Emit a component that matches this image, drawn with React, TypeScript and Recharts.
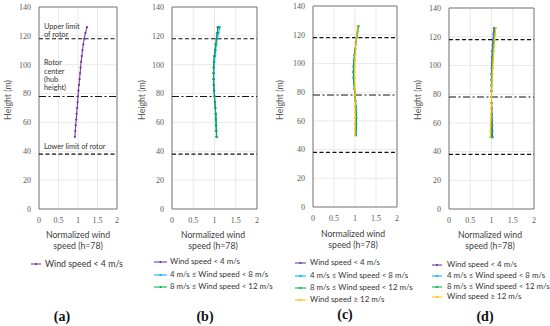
import React from "react";
import {
  ScatterChart,
  Scatter,
  XAxis,
  YAxis,
  CartesianGrid,
  ReferenceLine,
  ReferenceArea,
} from "recharts";

// measurement heights (m)
const heights = [50, 54, 58, 62, 66, 70, 74, 78, 82, 86, 90, 94, 98, 102, 106, 110, 114, 118, 122, 126];

// normalized wind speed (h=78) per panel and class
const aPurple = [0.92, 0.93, 0.94, 0.955, 0.965, 0.978, 0.99, 1.0, 1.012, 1.025, 1.04, 1.053, 1.066, 1.08, 1.097, 1.115, 1.135, 1.16, 1.19, 1.23];

const bPurple = [1.05, 1.045, 1.04, 1.035, 1.03, 1.02, 1.01, 1.0, 0.99, 0.983, 0.978, 0.977, 0.98, 0.988, 0.998, 1.012, 1.028, 1.048, 1.065, 1.075];
const bCyan = [1.045, 1.04, 1.035, 1.03, 1.025, 1.018, 1.008, 1.0, 0.993, 0.987, 0.984, 0.985, 0.99, 1.0, 1.013, 1.028, 1.045, 1.068, 1.095, 1.125];
const bGreen = [1.05, 1.045, 1.04, 1.035, 1.03, 1.02, 1.01, 1.0, 0.99, 0.982, 0.977, 0.975, 0.978, 0.985, 0.995, 1.01, 1.025, 1.045, 1.065, 1.09];

const cPurple = [1.015, 1.02, 1.022, 1.024, 1.02, 1.015, 1.008, 1.0, 0.99, 0.98, 0.973, 0.97, 0.973, 0.98, 0.992, 1.005, 1.02, 1.037, 1.055, 1.07];
const cCyan = [1.025, 1.03, 1.033, 1.035, 1.03, 1.022, 1.012, 1.0, 0.985, 0.972, 0.962, 0.958, 0.962, 0.972, 0.985, 1.0, 1.02, 1.04, 1.06, 1.085];
const cGreen = [1.02, 1.025, 1.028, 1.03, 1.026, 1.02, 1.01, 1.0, 0.988, 0.977, 0.968, 0.965, 0.968, 0.977, 0.99, 1.005, 1.022, 1.04, 1.058, 1.08];
const cYellow = [1.0, 1.0, 1.003, 1.005, 1.005, 1.004, 1.002, 1.0, 0.997, 0.994, 0.992, 0.991, 0.993, 0.997, 1.004, 1.012, 1.022, 1.035, 1.048, 1.06];

const dPurple = [1.025, 1.022, 1.02, 1.016, 1.012, 1.008, 1.004, 1.0, 0.998, 0.997, 0.997, 0.998, 1.0, 1.004, 1.01, 1.016, 1.024, 1.034, 1.045, 1.058];
const dCyan = [1.01, 1.008, 1.006, 1.005, 1.004, 1.002, 1.001, 1.0, 1.0, 1.001, 1.003, 1.006, 1.01, 1.016, 1.022, 1.03, 1.04, 1.05, 1.062, 1.075];
const dGreen = [1.0, 1.0, 1.0, 1.0, 1.0, 1.0, 1.0, 1.0, 1.002, 1.005, 1.009, 1.014, 1.02, 1.027, 1.035, 1.044, 1.054, 1.065, 1.077, 1.09];
const dYellow = [0.97, 0.975, 0.98, 0.985, 0.99, 0.994, 0.997, 1.0, 1.004, 1.009, 1.015, 1.021, 1.028, 1.036, 1.044, 1.053, 1.063, 1.074, 1.086, 1.1];

const xTicks = [0, 0.5, 1, 1.5, 2];
const yTicks = [0, 20, 40, 60, 80, 100, 120, 140];
const upperLimit = 118;
const hubHeight = 78;
const lowerLimit = 38;

const classNames = [
  "Wind speed < 4 m/s",
  "4 m/s \u2264 Wind speed < 8 m/s",
  "8 m/s \u2264 Wind speed < 12 m/s",
  "Wind speed \u2265 12 m/s",
];
const classColors = ["#7030A0", "#00B0F0", "#00B050", "#FFC000"];

const toPoints = (vals: number[]) => heights.map((h, i) => ({ h, v: vals[i] }));

const SANS = "Lato, 'Open Sans', sans-serif";
const SERIF = "'Liberation Serif', 'DejaVu Serif', serif";
const AXIS_GREY = "#595959";

type Series = { name: string; color: string; values: number[] };

type PanelCfg = {
  left: number;
  right: number;
  top: number;
  bottom: number;
  series: Series[];
  notes?: boolean;
};

const dot = (color: string) => (props: any) =>
  <circle cx={props.cx} cy={props.cy} r={1.1} fill={color} />;

const noteStyle = { fontFamily: SANS, fontSize: 7.3, fill: "#333" };

const noteLabel = (lines: string[], dy: number) => (props: any) => {
  const vb = props.viewBox || {};
  return (
    <text x={(vb.x ?? 0) + 5} y={(vb.y ?? 0) + dy} style={noteStyle}>
      {lines.map((l, i) => (
        <tspan key={i} x={(vb.x ?? 0) + 5} dy={i === 0 ? 0 : 8.2}>
          {l}
        </tspan>
      ))}
    </text>
  );
};

function Panel({ cfg }: { cfg: PanelCfg }) {
  const yw = 40;
  const w = cfg.right - cfg.left + yw + 5;
  const h = cfg.bottom + 20;
  return (
    <div style={{ position: "absolute", left: cfg.left - yw, top: 0 }}>
      <ScatterChart width={w} height={h} margin={{ top: cfg.top, right: 5, left: 0, bottom: 0 }}>
        <CartesianGrid stroke="#e3e3e3" strokeWidth={0.8} />
        <XAxis
          type="number"
          dataKey="v"
          domain={[0, 2]}
          ticks={xTicks}
          height={20}
          axisLine={false}
          tickLine={false}
          tick={{ fill: AXIS_GREY, fontFamily: SERIF, fontSize: 8 }}
          interval={0}
        />
        <YAxis
          type="number"
          dataKey="h"
          domain={[0, 140]}
          ticks={yTicks}
          width={yw}
          axisLine={false}
          tickLine={false}
          tick={{ fill: AXIS_GREY, fontFamily: SERIF, fontSize: 8 }}
          interval={0}
        />
        <ReferenceArea x1={0} x2={2} y1={0} y2={140} fill="none" stroke="#7a7a7a" strokeWidth={1} />
        <ReferenceLine
          y={upperLimit}
          stroke="#111"
          strokeWidth={1.2}
          strokeDasharray="4 2.5"
          label={cfg.notes ? noteLabel(["Upper limit", "of rotor"], -10) : undefined}
        />
        <ReferenceLine
          y={hubHeight}
          stroke="#111"
          strokeWidth={1.1}
          strokeDasharray="7 2.5 2 2.5"
          label={cfg.notes ? noteLabel(["Rotor", "center", "(hub", "height)"], -31) : undefined}
        />
        <ReferenceLine
          y={lowerLimit}
          stroke="#111"
          strokeWidth={1.2}
          strokeDasharray="4 2.5"
          label={cfg.notes ? noteLabel(["Lower limit of rotor"], -5) : undefined}
        />
        {cfg.series.map((s) => (
          <Scatter
            key={s.name}
            name={s.name}
            data={toPoints(s.values)}
            fill={s.color}
            line={{ stroke: s.color, strokeWidth: 1 }}
            shape={dot(s.color)}
            isAnimationActive={false}
          />
        ))}
      </ScatterChart>
    </div>
  );
}

function Txt({
  x,
  y,
  children,
  size = 8,
  family = SANS,
  color = AXIS_GREY,
  center = false,
  bold = false,
}: any) {
  return (
    <div
      style={{
        position: "absolute",
        left: x,
        top: y,
        transform: center ? "translate(-50%, -50%)" : "translateY(-50%)",
        fontFamily: family,
        fontSize: size,
        color,
        whiteSpace: "nowrap",
        lineHeight: 1,
        fontWeight: bold ? 700 : 400,
      }}
    >
      {children}
    </div>
  );
}

function Legend({ x1, x2, tx, ys, n, size }: { x1: number; x2: number; tx: number; ys: number[]; n: number; size: number }) {
  return (
    <>
      {ys.slice(0, n).map((y, i) => (
        <React.Fragment key={i}>
          <svg style={{ position: "absolute", left: x1, top: y - 3 }} width={x2 - x1} height={6}>
            <line x1={0} x2={x2 - x1} y1={3} y2={3} stroke={classColors[i]} strokeWidth={1.4} strokeOpacity={0.75} />
            <circle cx={(x2 - x1) / 2} cy={3} r={1.1} fill={classColors[i]} />
          </svg>
          <Txt x={tx} y={y} size={size} color="#333">
            {classNames[i]}
          </Txt>
        </React.Fragment>
      ))}
    </>
  );
}

const mk = (names: number[], vals: number[][]): Series[] =>
  names.map((k, i) => ({ name: classNames[k], color: classColors[k], values: vals[i] }));

const panels: PanelCfg[] = [
  { left: 39, right: 117, top: 7, bottom: 209, series: mk([0], [aPurple]), notes: true },
  { left: 172, right: 257, top: 7, bottom: 209, series: mk([0, 1, 2], [bPurple, bCyan, bGreen]) },
  { left: 313, right: 397, top: 6, bottom: 207, series: mk([0, 1, 2, 3], [cPurple, cCyan, cGreen, cYellow]) },
  { left: 449, right: 534, top: 8, bottom: 209, series: mk([0, 1, 2, 3], [dPurple, dCyan, dGreen, dYellow]) },
];

const yLabelX = [8, 142, 280, 418];
const xLabelX = [78, 213, 353, 490];
const xLabelY = [235, 235, 234, 235];
const tagX = [62, 205, 345, 485];
const tagY = [317, 317, 315, 317];
const tags = ["(a)", "(b)", "(c)", "(d)"];

export default function App() {
  return (
    <div style={{ position: "absolute", left: 0, top: 0, width: 550, height: 326, background: "#fff", overflow: "hidden" }}>
      {panels.map((p, i) => (
        <Panel key={i} cfg={p} />
      ))}
      {yLabelX.map((x, i) => (
        <div
          key={"yl" + i}
          style={{
            position: "absolute",
            left: x,
            top: 100,
            transform: "translate(-50%, -50%) rotate(-90deg)",
            fontFamily: SANS,
            fontSize: 8.8,
            color: AXIS_GREY,
            whiteSpace: "nowrap",
            lineHeight: 1,
          }}
        >
          Height (m)
        </div>
      ))}
      {xLabelX.map((x, i) => (
        <React.Fragment key={"xl" + i}>
          <Txt x={x} y={xLabelY[i]} size={8.7} center color="#404040">
            Normalized wind
          </Txt>
          <Txt x={x} y={xLabelY[i] + 10.5} size={8.7} center color="#404040">
            speed (h=78)
          </Txt>
        </React.Fragment>
      ))}
      <Legend x1={31} x2={41} tx={45} ys={[264]} n={1} size={8.8} />
      <Legend x1={154} x2={167} tx={170} ys={[262, 274.5, 286.5]} n={3} size={7.9} />
      <Legend x1={295} x2={306} tx={310} ys={[263, 275.5, 288, 300]} n={4} size={7.9} />
      <Legend x1={432} x2={442} tx={447} ys={[265, 276, 286.5, 297]} n={4} size={7.9} />
      {tags.map((t, i) => (
        <Txt key={t} x={tagX[i]} y={tagY[i]} size={14} family={SERIF} color="#111" center bold>
          {t}
        </Txt>
      ))}
    </div>
  );
}
